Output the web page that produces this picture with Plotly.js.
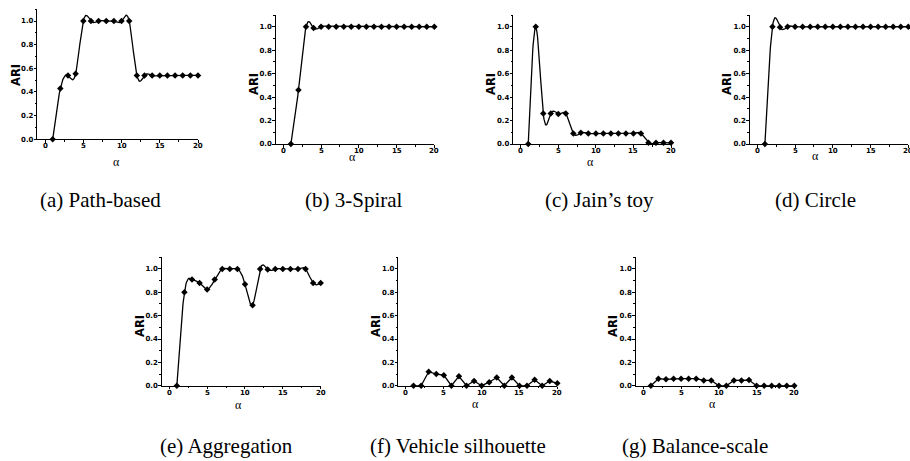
<!DOCTYPE html>
<html><head><meta charset="utf-8">
<script src="https://cdn.plot.ly/plotly-3.0.1.min.js"></script>
<style>html,body{margin:0;padding:0;background:#fff}#chart{width:910px;height:461px}</style>
</head><body><div id="chart"></div>
<script>
// ---- data ----
const alpha = [1,2,3,4,5,6,7,8,9,10,11,12,13,14,15,16,17,18,19,20];
const pathBased   = [0.00,0.43,0.54,0.555,1.00,1.00,1.00,1.00,1.00,1.00,1.00,0.54,0.54,0.54,0.54,0.54,0.54,0.54,0.54,0.54];
const spiral3     = [0.00,0.46,1.00,0.99,1.00,1.00,1.00,1.00,1.00,1.00,1.00,1.00,1.00,1.00,1.00,1.00,1.00,1.00,1.00,1.00];
const jainToy     = [0.00,1.00,0.26,0.26,0.255,0.26,0.09,0.095,0.09,0.09,0.09,0.09,0.09,0.09,0.09,0.09,0.01,0.01,0.01,0.01];
const circle      = [0.00,1.00,0.995,1.00,1.00,1.00,1.00,1.00,1.00,1.00,1.00,1.00,1.00,1.00,1.00,1.00,1.00,1.00,1.00,1.00];
const aggregation = [0.00,0.80,0.91,0.88,0.825,0.91,1.00,1.00,1.00,0.87,0.69,1.00,0.995,1.00,1.00,1.00,1.00,1.00,0.88,0.88];
const vehicle     = [0.00,0.00,0.12,0.10,0.09,0.00,0.08,0.00,0.04,0.00,0.03,0.07,0.00,0.07,0.00,0.00,0.05,0.00,0.04,0.02];
const balance     = [0.00,0.06,0.055,0.06,0.06,0.06,0.06,0.045,0.045,0.00,0.00,0.045,0.045,0.048,0.00,0.00,0.00,0.00,0.00,0.00];
const captions = ['(a) Path-based','(b) 3-Spiral','(c) Jain\u2019s toy','(d) Circle','(e) Aggregation','(f) Vehicle silhouette','(g) Balance-scale'];
const xTickVals = [0,5,10,15,20];
const xTickText = ['0','5','10','15','20'];
const yLabel = 'ARI';
const xLabel = '\u03b1';

const series = [pathBased, spiral3, jainToy, circle, aggregation, vehicle, balance];
const smooth = [true, true, true, true, true, false, false];

// natural cubic spline, used only to draw the connecting line (Origin "spline" line style)
function splineLine(xs, ys, steps) {
  const n = xs.length, h = [], al = [], mu = [0], z = [0], c = new Array(n).fill(0), b = [], d = [];
  for (let i = 0; i < n - 1; i++) h.push(xs[i+1] - xs[i]);
  for (let i = 1; i < n - 1; i++) al[i] = 3/h[i]*(ys[i+1]-ys[i]) - 3/h[i-1]*(ys[i]-ys[i-1]);
  for (let i = 1; i < n - 1; i++) {
    const l = 2*(xs[i+1]-xs[i-1]) - h[i-1]*mu[i-1];
    mu[i] = h[i]/l;
    z[i] = (al[i] - h[i-1]*z[i-1]) / l;
  }
  for (let j = n - 2; j >= 0; j--) {
    c[j] = j > 0 ? z[j] - mu[j]*c[j+1] : 0;
    b[j] = (ys[j+1]-ys[j])/h[j] - h[j]*(c[j+1] + 2*c[j])/3;
    d[j] = (c[j+1]-c[j])/(3*h[j]);
  }
  const ox = [], oy = [];
  for (let j = 0; j < n - 1; j++) {
    for (let s = 0; s < steps; s++) {
      const t = h[j]*s/steps;
      ox.push(xs[j] + t);
      oy.push(ys[j] + b[j]*t + c[j]*t*t + d[j]*t*t*t);
    }
  }
  ox.push(xs[n-1]); oy.push(ys[n-1]);
  return {x: ox, y: oy};
}

// ---- layout geometry (pixels) ----
const W = 910, H = 461;
const boxes = [ // [left, right, top, bottom]
  [37.4, 198, 9.2, 139.3],
  [275.8, 434.3, 15, 144],
  [513.2, 671, 15, 144],
  [749.8, 908.3, 15, 144],
  [161.7, 320.7, 257.3, 385.7],
  [398.4, 557.3, 257.3, 385.7],
  [635.8, 794.3, 257.3, 385.7]
];
const ariPos = [[16,75],[254,84],[491,84],[727,84],[140,326],[376,326],[613,326]];
const alphaPos = [[117,162],[352,157],[590,162],[815,156],[238,405],[475,404],[712,404]];
const capPos = [[100,200],[354,200],[599,200],[815,200],[226,446],[458,446],[695,446]];

const px = x => x / W, py = y => 1 - y / H;

const data = [], annotations = [];
const layout = {
  width: W, height: H, margin: {l:0,r:0,t:0,b:0},
  paper_bgcolor: '#fff', plot_bgcolor: '#fff', showlegend: false,
  font: {family: 'DejaVu Sans', color: '#000'}
};
const tickFont = {family: 'DejaVu Sans', size: 7, weight: 'bold', color: '#000'};

series.forEach((ys, i) => {
  const n = i + 1, b = boxes[i];
  const ln = smooth[i] ? splineLine(alpha, ys, 20) : {x: alpha, y: ys};
  data.push({
    x: ln.x, y: ln.y, xaxis: 'x' + n, yaxis: 'y' + n, type: 'scatter', mode: 'lines',
    line: {color: '#000', width: 1.3}, cliponaxis: !smooth[i] ? false : true, hoverinfo: 'skip'
  });
  data.push({
    x: alpha, y: ys, xaxis: 'x' + n, yaxis: 'y' + n, type: 'scatter', mode: 'markers',
    marker: {color: '#000', size: 5, symbol: 'diamond'}, cliponaxis: false, hoverinfo: 'skip'
  });
  layout['xaxis' + n] = {
    domain: [px(b[0]), px(b[1])], anchor: 'y' + n, range: [-1, 20],
    showline: true, linecolor: '#000', linewidth: 1, showgrid: false, zeroline: false,
    tickmode: 'array', tickvals: xTickVals, ticks: 'outside', ticklen: 2.5, tickwidth: 1, tickcolor: '#000',
    minor: {tickmode: 'array', tickvals: [2.5, 7.5, 12.5, 17.5], ticks: 'outside', ticklen: 1.5, tickwidth: 1, tickcolor: '#000', showgrid: false},
    showticklabels: false, fixedrange: true
  };
  layout['yaxis' + n] = {
    domain: [py(b[3]), py(b[2])], anchor: 'x' + n, range: [0, 1.1],
    showline: true, linecolor: '#000', linewidth: 1, showgrid: false, zeroline: false,
    tickmode: 'linear', tick0: 0, dtick: 0.2, tickformat: '.1f', ticks: 'outside', ticklen: 2.5, tickwidth: 1, tickcolor: '#000',
    minor: {tickmode: 'linear', tick0: 0, dtick: 0.1, ticks: 'outside', ticklen: 1.5, tickwidth: 1, tickcolor: '#000', showgrid: false},
    tickfont: tickFont, ticklabelstandoff: -1, ticklabeloverflow: 'allow', fixedrange: true
  };
  // x tick labels, placed on the axis scale at each tick value
  xTickVals.forEach((v, k) => {
    annotations.push({
      xref: 'x' + n, yref: 'y' + n + ' domain', x: v, y: 0, yanchor: 'top', xanchor: 'center',
      yshift: -2, text: xTickText[k], showarrow: false, borderpad: 0, font: tickFont
    });
  });
  annotations.push({
    xref: 'paper', yref: 'paper', x: px(ariPos[i][0]), y: py(ariPos[i][1]),
    text: yLabel, textangle: -90, showarrow: false, xanchor: 'center', yanchor: 'middle',
    font: {family: 'DejaVu Sans', size: 11.5, weight: 'bold', color: '#000'}
  });
  annotations.push({
    xref: 'paper', yref: 'paper', x: px(alphaPos[i][0]), y: py(alphaPos[i][1]),
    text: xLabel, showarrow: false, xanchor: 'center', yanchor: 'middle', borderpad: 0,
    font: {family: 'Liberation Serif', size: 12, color: '#000'}
  });
  annotations.push({
    xref: 'paper', yref: 'paper', x: px(capPos[i][0]), y: py(capPos[i][1]),
    text: captions[i], showarrow: false, xanchor: 'center', yanchor: 'middle',
    font: {family: 'Liberation Serif', size: 21, color: '#000'}
  });
});
layout.annotations = annotations;

Plotly.newPlot('chart', data, layout, {displayModeBar: false, staticPlot: true});
</script>
</body></html>
